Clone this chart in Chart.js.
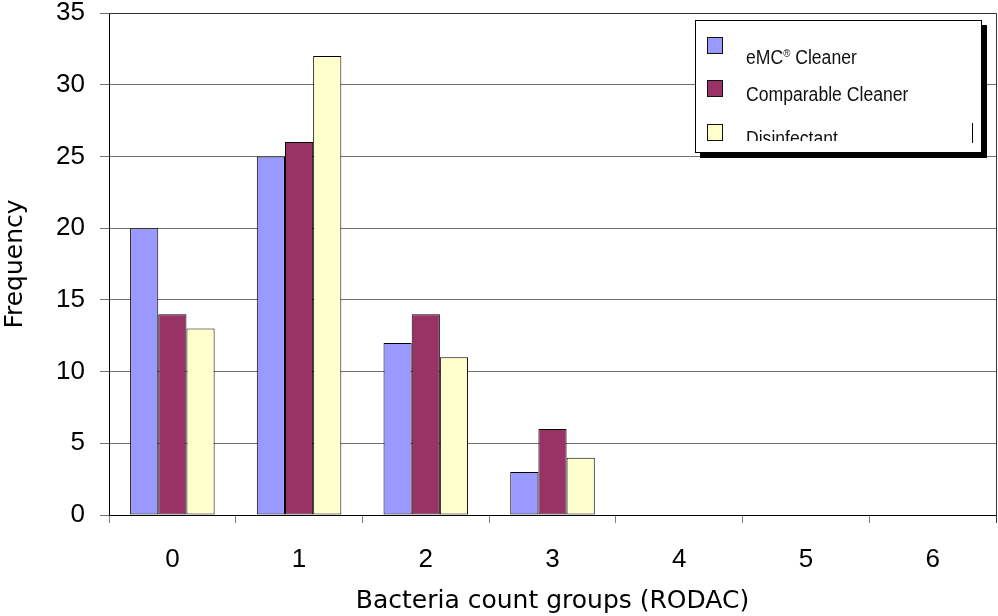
<!DOCTYPE html>
<html>
<head>
<meta charset="utf-8">
<script src="https://cdn.jsdelivr.net/npm/chart.js@4.4.0/dist/chart.umd.min.js"></script>
<style>
  html, body { margin: 0; padding: 0; background: #fff; }
  #wrap { position: relative; width: 998px; height: 616px; }
  #legend {
    position: absolute; left: 695px; top: 20px; width: 285px; height: 131px;
    border: 1px solid #000; background: #fff; box-shadow: 5px 5px 0 #000;
    font-family: "Liberation Sans", Arial, sans-serif; overflow: hidden;
  }
  .item { position: absolute; left: 11px; height: 30px; }
  .box { position: absolute; left: 0; top: 0; width: 14px; height: 15px; border: 1px solid #111; }
  .txt { position: absolute; left: 39px; white-space: nowrap; font-size: 20px; color: #111;
         transform: scaleX(0.88); transform-origin: left top; }
  .txt sup { font-size: 11px; vertical-align: 7px; }
  #clip { position: absolute; left: 0; top: 0; width: 285px; height: 120px; overflow: hidden; }
  #caret { position: absolute; left: 276px; top: 102px; width: 1px; height: 20px; background: #000; }
</style>
</head>
<body>
<div id="wrap">
  <canvas id="chart" width="998" height="616"></canvas>
  <div id="legend"><div id="clip"></div><div id="caret"></div></div>
</div>
<script>
const groups = ["0", "1", "2", "3", "4", "5", "6"];
const seriesNames = ["eMC® Cleaner", "Comparable Cleaner", "Disinfectant"];
const emcCleaner = [20, 25, 12, 3, 0, 0, 0];
const comparableCleaner = [14, 26, 14, 6, 0, 0, 0];
const disinfectant = [13, 32, 11, 4, 0, 0, 0];
const colors = ["#9999FF", "#993366", "#FFFFCC"];

// plot frame: top line and right edge
const frame = {
  id: "frame",
  afterDraw(chart) {
    const { ctx, chartArea } = chart;
    ctx.save();
    ctx.strokeStyle = "#333";
    ctx.lineWidth = 1;
    ctx.beginPath();
    ctx.moveTo(chartArea.left, chartArea.top + 0.5);
    ctx.lineTo(chartArea.right + 0.5, chartArea.top + 0.5);
    ctx.lineTo(chartArea.right + 0.5, chartArea.bottom + 8);
    ctx.stroke();
    ctx.restore();
  }
};

const datasets = [emcCleaner, comparableCleaner, disinfectant].map((values, i) => ({
  label: seriesNames[i],
  data: values,
  backgroundColor: colors[i],
  borderColor: "#000",
  borderWidth: 1,
  borderSkipped: false,
  categoryPercentage: 0.667,
  barPercentage: 1
}));

new Chart(document.getElementById("chart").getContext("2d"), {
  type: "bar",
  data: { labels: groups, datasets: datasets },
  options: {
    responsive: false,
    animation: false,
    layout: { padding: { top: 13, right: 2, left: 0, bottom: 0 } },
    plugins: { legend: { display: false }, tooltip: { enabled: false } },
    scales: {
      x: {
        grid: { offset: true, drawOnChartArea: false, tickLength: 8, color: "#808080" },
        border: { color: "#000" },
        ticks: { color: "#000", padding: 21, font: { family: "Liberation Sans", size: 26 } },
        title: {
          display: true, text: "Bacteria count groups (RODAC)", color: "#000",
          font: { family: "DejaVu Sans", size: 25 }, padding: { top: 0, bottom: 0 }
        },
        afterFit(scale) { scale.height = 101; scale.paddingLeft = 0; scale.paddingRight = 0; }
      },
      y: {
        min: 0, max: 35,
        ticks: { stepSize: 5, color: "#000", padding: 15, font: { family: "Liberation Sans", size: 26 } },
        grid: { color: "#707070", tickLength: 9 },
        border: { color: "#000" },
        title: {
          display: true, text: "Frequency", color: "#000",
          font: { family: "DejaVu Sans", size: 25 }, padding: { top: 0, bottom: 0 }
        },
        afterFit(scale) { scale.width = 109; scale.paddingTop = 0; scale.paddingBottom = 0; }
      }
    }
  },
  plugins: [frame]
});

// legend drawn as html so it can sit over the plot with a drop shadow
const clip = document.getElementById("clip");
const rowTops = [16, 59, 103];
seriesNames.forEach((name, i) => {
  const item = document.createElement("div");
  item.className = "item";
  item.style.top = rowTops[i] + "px";
  const label = name.replace("®", "<sup>®</sup>");
  item.innerHTML = '<div class="box" style="background:' + colors[i] + '"></div>' +
    '<div class="txt" style="top:' + (i === 0 ? 9 : 3) + 'px">' + label + '</div>';
  clip.appendChild(item);
});
</script>
</body>
</html>
